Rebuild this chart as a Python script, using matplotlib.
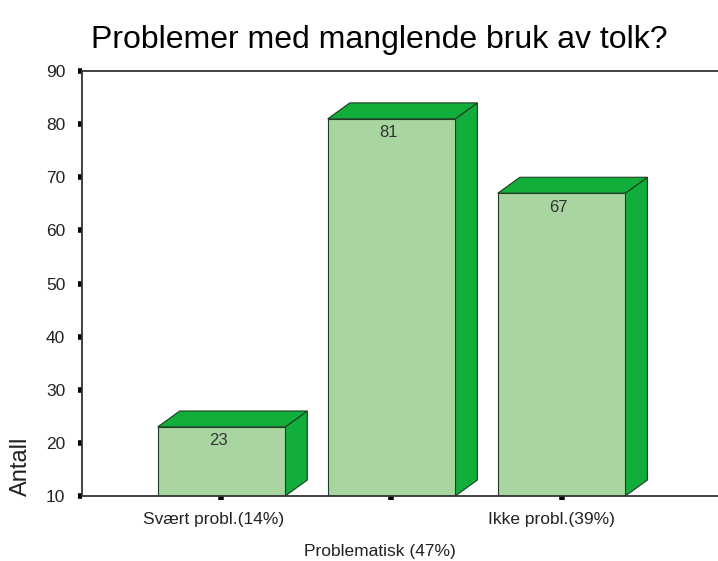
import matplotlib.pyplot as plt
from matplotlib.patches import Polygon, Rectangle

categories = ["Svært probl.(14%)", "Problematisk (47%)", "Ikke probl.(39%)"]
counts = [23, 81, 67]

front = "#a8d5a0"
dark = "#12ae3c"
edge = "#1f3d22"

plt.rcParams["font.family"] = ["Liberation Sans", "DejaVu Sans"]

fig = plt.figure(figsize=(7.18, 5.61), dpi=100)
ax = fig.add_axes([0.1142, 0.1159, 0.8858, 0.7575])

base = 10
w = 0.75  # bar width
dx, dy = 0.13, 3.0  # 3d depth in data units
for i, v in enumerate(counts):
    x0, x1 = i - w / 2, i + w / 2
    ax.add_patch(Polygon([(x1, base), (x1, v), (x1 + dx, v + dy), (x1 + dx, base + dy)],
                         closed=True, fc=dark, ec=edge, lw=0.8))
    ax.add_patch(Polygon([(x0, v), (x0 + dx, v + dy), (x1 + dx, v + dy), (x1, v)],
                         closed=True, fc=dark, ec=edge, lw=0.8))
    ax.add_patch(Rectangle((x0, base), w, v - base, fc=front, ec=edge, lw=0.8))
    ax.text(i - 0.02, v - 1.2, str(v), ha="center", va="top", fontsize=12, color="#333333")

ax.set_xlim(-0.82, 2.92)
ax.set_ylim(10, 90)
ax.set_yticks(range(10, 91, 10))
ax.set_xticks(range(len(categories)))
ax.set_xticklabels([])
# category labels staggered like the original (middle one drops a row)
offsets = [(-8, -24), (-12, -56), (-10, -24)]
for i, (lab, (ox, oy)) in enumerate(zip(categories, offsets)):
    ax.annotate(lab, xy=(i, 0), xycoords=("data", "axes fraction"),
                xytext=(ox * 0.72, oy * 0.72), textcoords="offset points",
                ha="center", va="center", fontsize=12.5, color="#222222")
ax.tick_params(axis="both", length=3, width=4, color="black", labelsize=12.5, labelcolor="#222222")
ax.tick_params(axis="y", pad=9)
ax.spines["right"].set_visible(False)
for s in ("left", "top", "bottom"):
    ax.spines[s].set_color("#333333")
    ax.spines[s].set_linewidth(1.3)
ax.set_ylabel("Antall", fontsize=17, loc="bottom", labelpad=10, color="#222222")

fig.text(0.528, 0.929, "Problemer med manglende bruk av tolk?", ha="center", va="center", fontsize=23)

fig.savefig("out.png", dpi=100)
